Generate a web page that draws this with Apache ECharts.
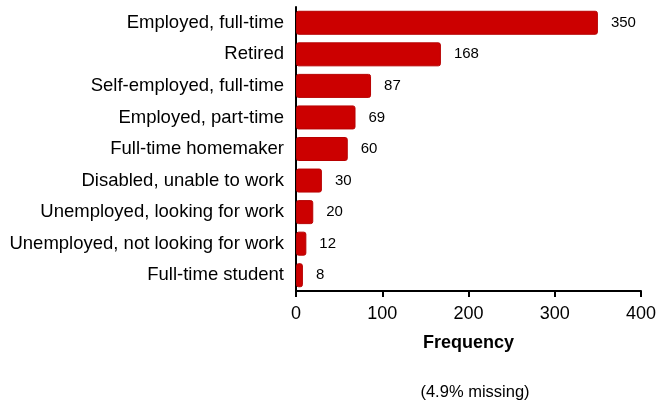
<!DOCTYPE html>
<html><head><meta charset="utf-8">
<script src="https://cdn.jsdelivr.net/npm/echarts@6/dist/echarts.min.js"></script>
<style>html,body{margin:0;padding:0;background:#fff}#c{width:665px;height:406px}</style>
</head><body><div id="c"></div>
<script>
const categories = ["Employed, full-time","Retired","Self-employed, full-time","Employed, part-time","Full-time homemaker","Disabled, unable to work","Unemployed, looking for work","Unemployed, not looking for work","Full-time student"];
const values = [350,168,87,69,60,30,20,12,8];
const xTicks = [0,100,200,300,400];
const axisTitle = "Frequency";
const note = "(4.9% missing)";

const chart = echarts.init(document.getElementById('c'), null, {renderer:'canvas'});
const font = 'Liberation Sans, Arial, sans-serif';
chart.setOption({
  animation:false,
  grid:{left:296,right:24,top:7,bottom:115,containLabel:false},
  title:{text:note,left:470,top:379,textAlign:'center',textStyle:{fontFamily:font,fontSize:16.5,fontWeight:'normal',color:'#000'}},
  xAxis:{type:'value',min:xTicks[0],max:xTicks[xTicks.length-1],interval:100,
    name:axisTitle,nameLocation:'middle',nameGap:43,
    nameTextStyle:{fontFamily:font,fontSize:18,fontWeight:'bold',color:'#000'},
    axisLine:{show:true,lineStyle:{color:'#000',width:2}},
    axisTick:{show:true,length:6,lineStyle:{color:'#000',width:2}},
    axisLabel:{fontFamily:font,fontSize:18,color:'#000',margin:14},
    splitLine:{show:false}},
  yAxis:{type:'category',data:categories,inverse:true,
    axisLine:{show:true,lineStyle:{color:'#000',width:2}},
    axisTick:{show:false},
    axisLabel:{fontFamily:font,fontSize:18.5,color:'#000',margin:12}},
  series:[{type:'bar',data:values,barWidth:24,
    itemStyle:{color:'#CC0000',borderColor:'#B80000',borderWidth:1,borderRadius:2},
    label:{show:true,position:'right',distance:13,fontFamily:font,fontSize:15,color:'#000'}}]
});
</script></body></html>
